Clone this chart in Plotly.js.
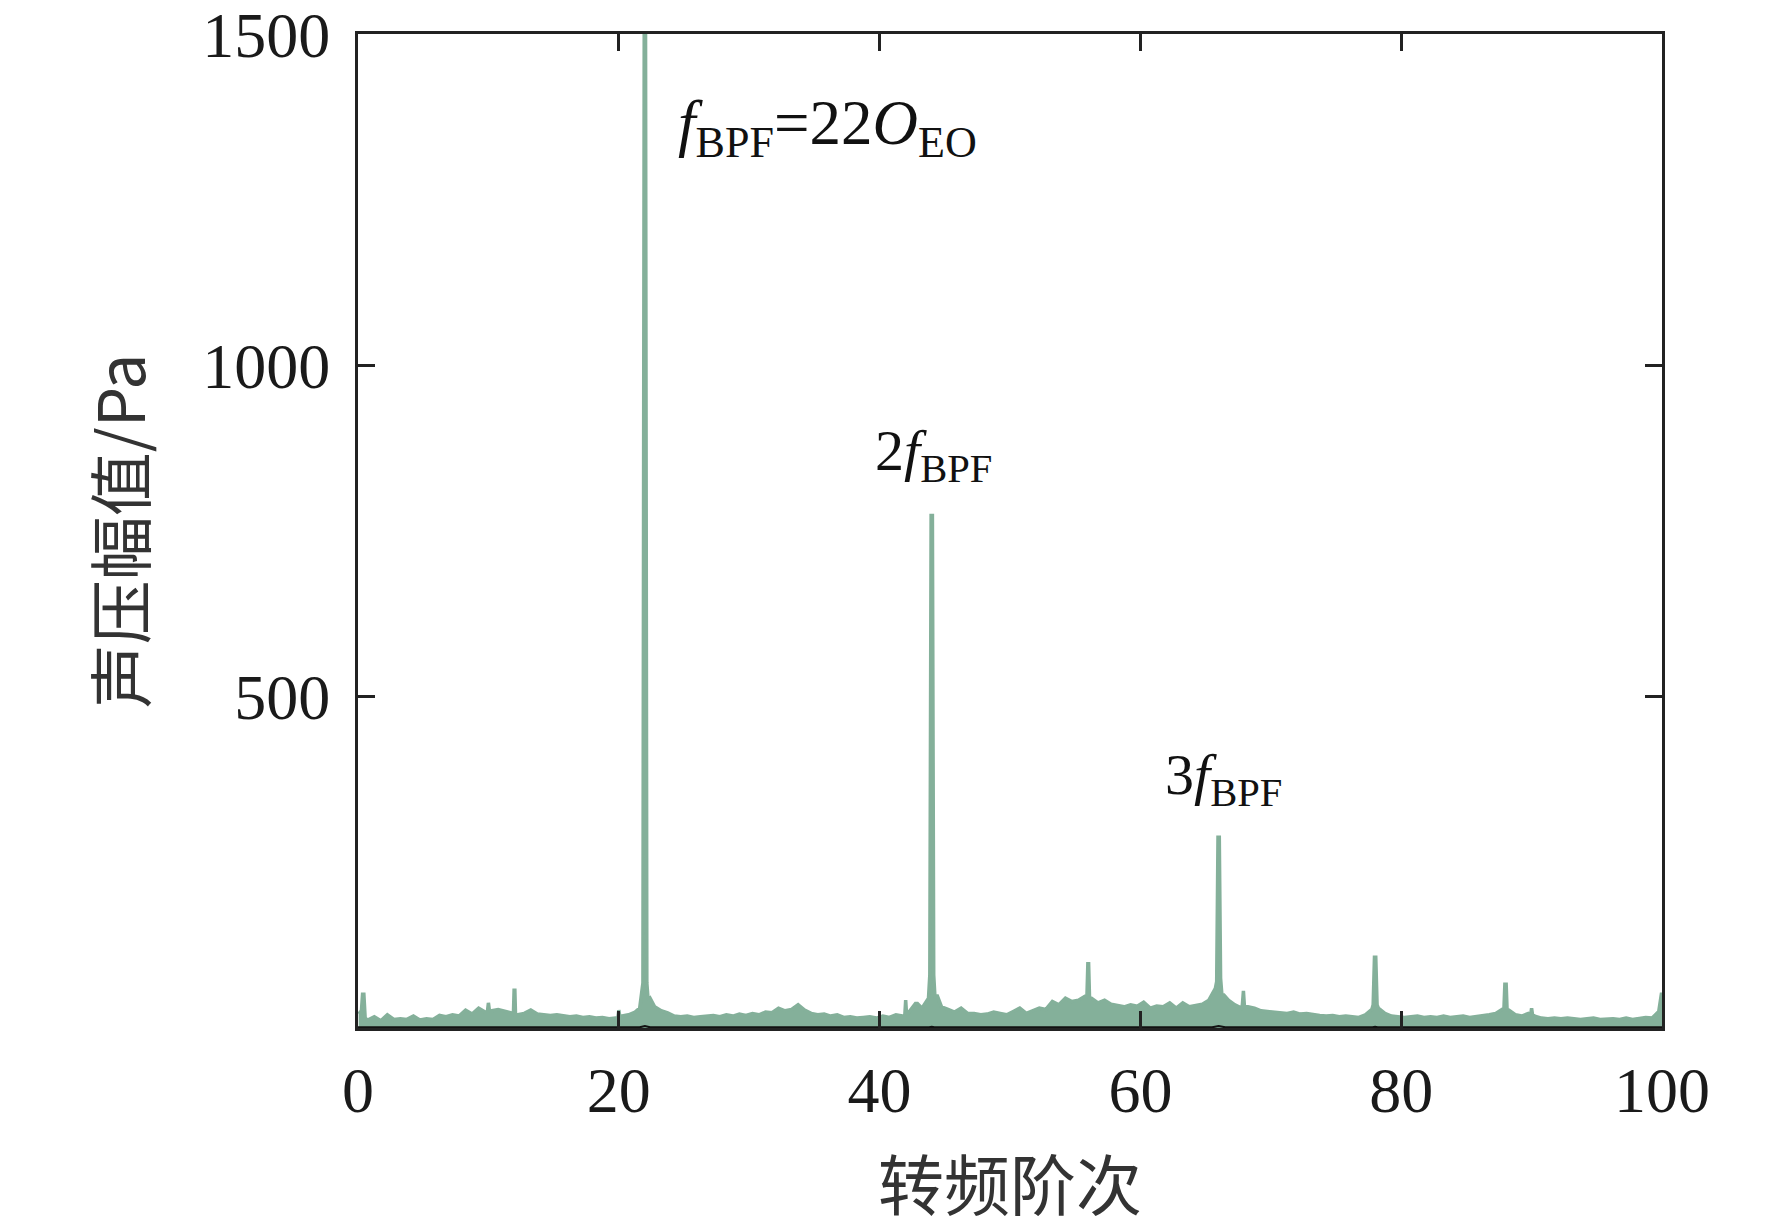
<!DOCTYPE html>
<html>
<head>
<meta charset="utf-8">
<script src="https://cdn.plot.ly/plotly-3.0.1.min.js"></script>
<style>
  body { margin: 0; background: #fff; }
  #spectrum { width: 1772px; height: 1229px; }
</style>
</head>
<body>
<div id="spectrum"></div>
<script>
// noise floor, read every 0.5 order (0.25, 0.75, ... 99.75)
var floor_start = 0.25;
var floor_step = 0.5;
var floor_amp = [
  22, 12, 17, 11, 20, 13, 14, 13, 18, 12,
  14, 13, 19, 17, 20, 18, 27, 21, 30, 24,
  26, 28, 25, 22, 20, 22, 27, 21, 20, 19,
  20, 18, 17, 18, 16, 17, 15, 16, 14, 15,
  18, 20, 24, 53, 42, 32, 26, 23, 18, 17,
  18, 16, 17, 18, 19, 17, 20, 18, 21, 19,
  22, 20, 24, 23, 30, 26, 28, 35, 27, 22,
  20, 21, 18, 20, 16, 17, 15, 16, 17, 15,
  18, 16, 20, 18, 24, 37, 30, 45, 45, 32,
  28, 24, 30, 22, 22, 20, 21, 24, 22, 20,
  25, 30, 22, 26, 30, 28, 40, 35, 45, 40,
  42, 48, 45, 38, 42, 36, 34, 32, 35, 33,
  39, 30, 33, 32, 38, 30, 38, 32, 34, 36,
  42, 60, 50, 42, 35, 30, 32, 30, 26, 25,
  24, 23, 22, 24, 21, 22, 20, 19, 18, 19,
  17, 18, 17, 16, 20, 28, 30, 22, 18, 17,
  16, 17, 18, 16, 17, 16, 18, 16, 17, 18,
  16, 17, 18, 20, 22, 28, 27, 20, 18, 22,
  18, 15, 14, 15, 14, 15, 14, 13, 14, 15,
  13, 14, 14, 13, 15, 13, 14, 16, 15, 25
];

// narrow peaks (harmonics of the blade passing frequency and side lines)
var peak_order = [
  0.05, 0.35, 0.45, 0.55,
  9.92, 10.0, 10.08,
  11.92, 11.97, 12.03, 12.08,
  19.93, 20.0, 20.07,
  21.6, 21.85, 21.95, 22.05, 22.15, 22.4,
  41.93, 42.0, 42.07, 42.9,
  43.85, 43.95, 44.05, 44.15, 44.4,
  55.9, 55.97, 56.03, 56.1,
  65.85, 65.95, 66.05, 66.15, 66.4,
  67.82, 67.9, 67.98,
  77.85, 77.95, 78.05, 78.15,
  87.88, 87.95, 88.05, 88.12,
  89.93, 90.0, 90.07,
  99.95, 100
];
var peak_amp = [
  25, 51, 51, 15,
  24, 38, 26,
  22, 57, 57, 20,
  15, 27, 18,
  30, 68, 1520, 1520, 68, 45,
  18, 42, 20, 37,
  80, 774, 774, 80, 50,
  48, 97, 97, 45,
  70, 288, 288, 75, 50,
  35, 56, 32,
  35, 107, 107, 35,
  30, 66, 66, 28,
  20, 30, 20,
  51, 51
];

// the faint dark trace that sits on the zero line
var low_order = [0, 21.6, 22, 22.4, 43.8, 44, 44.2, 65.5, 66, 66.5, 77.8, 78, 78.2, 87.8, 88, 88.2, 100];
var low_amp = [1, 1, 3, 1, 1, 2, 1, 1, 3, 1, 1, 2, 1, 1, 2, 1, 1];

var x_ticks = [0, 20, 40, 60, 80, 100];
var y_ticks = [500, 1000, 1500];

// merge floor and peaks into one spectrum sorted by order
var pts = [];
for (var i = 0; i < floor_amp.length; i++) {
    pts.push([floor_start + i * floor_step, floor_amp[i]]);
}
for (var j = 0; j < peak_order.length; j++) {
    pts.push([peak_order[j], peak_amp[j]]);
}
pts.sort(function(a, b) { return a[0] - b[0]; });
var spec_x = pts.map(function(p) { return p[0]; });
var spec_y = pts.map(function(p) { return p[1]; });

var green = 'rgb(132,176,154)';

var spectrum = {
    x: spec_x,
    y: spec_y,
    type: 'scatter',
    mode: 'lines',
    line: { color: green, width: 3.5 },
    fill: 'tozeroy',
    fillcolor: green,
    hoverinfo: 'skip',
    showlegend: false
};

var low_line = {
    x: low_order,
    y: low_amp,
    type: 'scatter',
    mode: 'lines',
    line: { color: '#111', width: 2 },
    hoverinfo: 'skip',
    showlegend: false
};

var serif = 'Liberation Serif, Times New Roman, Noto Sans CJK SC, serif';

var layout = {
    width: 1772,
    height: 1229,
    margin: { l: 358, r: 110, t: 34, b: 201 },
    paper_bgcolor: '#fff',
    plot_bgcolor: '#fff',
    font: { family: serif, color: '#1a1a1a', size: 64 },
    xaxis: {
        range: [0, 100],
        tickvals: x_ticks,
        ticks: 'inside',
        ticklen: 17,
        tickwidth: 3,
        tickcolor: '#222',
        showline: true,
        linewidth: 3,
        linecolor: '#222',
        mirror: 'ticks',
        showgrid: false,
        zeroline: false,
        ticklabelstandoff: 4,
        tickfont: { family: serif, size: 64 },
        title: {
            text: '转频阶次',
            font: { family: 'Noto Sans CJK SC, sans-serif', size: 66, color: '#333' },
            standoff: 44
        }
    },
    yaxis: {
        range: [0, 1501],
        tickvals: y_ticks,
        ticks: 'inside',
        ticklen: 17,
        tickwidth: 3,
        tickcolor: '#222',
        showline: true,
        linewidth: 3,
        linecolor: '#222',
        mirror: 'ticks',
        showgrid: false,
        zeroline: false,
        ticklabelstandoff: 12,
        tickfont: { family: serif, size: 64 },
        title: {
            text: '声压幅值/Pa',
            font: { family: 'Noto Sans CJK SC, sans-serif', size: 64, color: '#333' },
            standoff: 36
        }
    },
    annotations: [
        {
            x: 24.4, y: 1360, xref: 'x', yref: 'y',
            xanchor: 'left', yanchor: 'middle',
            text: '<i>f</i><sub>BPF</sub>=22<i>O</i><sub>EO</sub>',
            showarrow: false,
            font: { family: serif, size: 63, color: '#111' }
        },
        {
            x: 44.1, y: 866, xref: 'x', yref: 'y',
            xanchor: 'center', yanchor: 'middle',
            text: '2<i>f</i><sub>BPF</sub>',
            showarrow: false,
            font: { family: serif, size: 58, color: '#111' }
        },
        {
            x: 66.4, y: 377, xref: 'x', yref: 'y',
            xanchor: 'center', yanchor: 'middle',
            text: '3<i>f</i><sub>BPF</sub>',
            showarrow: false,
            font: { family: serif, size: 58, color: '#111' }
        }
    ]
};

Plotly.newPlot('spectrum', [spectrum, low_line], layout, { displayModeBar: false, staticPlot: true });
</script>
</body>
</html>
